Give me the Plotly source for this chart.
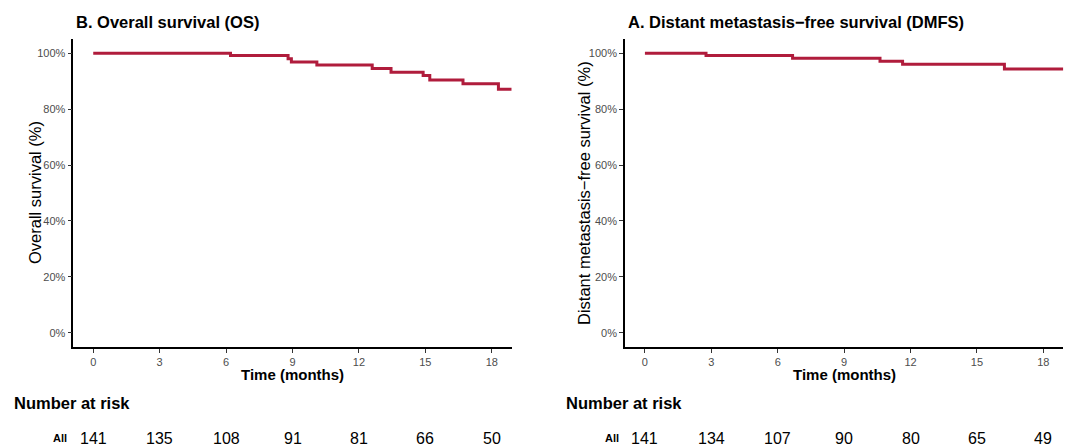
import plotly.graph_objects as go

# ---- data ----
os_time = [0, 6.2, 8.8, 8.95, 10.1, 12.6, 13.45, 14.9, 15.2, 16.7, 18.3, 18.9]
os_surv = [100, 99.2, 98.0, 96.8, 95.8, 94.5, 93.2, 92.0, 90.4, 89.1, 87.1, 87.1]

dmfs_time = [0, 2.76, 6.67, 10.62, 11.64, 16.24, 18.9]
dmfs_surv = [100, 99.2, 98.2, 97.1, 96.0, 94.3, 94.3]

risk_times = [0, 3, 6, 9, 12, 15, 18]
os_risk = [141, 135, 108, 91, 81, 66, 50]
dmfs_risk = [141, 134, 107, 90, 80, 65, 49]

x_ticks = [0, 3, 6, 9, 12, 15, 18]
y_ticks = [0, 20, 40, 60, 80, 100]
y_ticktext = ["0%", "20%", "40%", "60%", "80%", "100%"]

title_os = "B. Overall survival (OS)"
title_dmfs = "A. Distant metastasis\u2212free survival (DMFS)"
ytitle_os = "Overall survival (%)"
ytitle_dmfs = "Distant metastasis\u2212free survival (%)"
xtitle = "Time (months)"
risk_label = "Number at risk"
group_label = "All"

# ---- layout constants ----
W, H = 1070, 446
FONT = "Liberation Sans, Arial, sans-serif"
RED = "#B01C3C"
xd1 = [73.3 / W, 511.7 / W]
xd2 = [625.0 / W, 1063.3 / W]
yd = [(H - 346.7) / H, (H - 39.2) / H]

fig = go.Figure()
fig.add_trace(go.Scatter(x=os_time, y=os_surv, mode="lines", line=dict(color=RED, width=3, shape="hv"),
                         xaxis="x", yaxis="y", showlegend=False, hoverinfo="skip"))
fig.add_trace(go.Scatter(x=dmfs_time, y=dmfs_surv, mode="lines", line=dict(color=RED, width=3, shape="hv"),
                         xaxis="x2", yaxis="y2", showlegend=False, hoverinfo="skip"))

axis_common = dict(showline=True, linecolor="black", linewidth=1.6, showgrid=False, zeroline=False,
                   ticks="outside", ticklen=4, tickwidth=1.2, tickcolor="#333333",
                   tickfont=dict(family=FONT, size=11, color="#4D4D4D"), fixedrange=True)

fig.update_layout(
    template="none",
    width=W, height=H, margin=dict(l=0, r=0, t=0, b=0),
    paper_bgcolor="white", plot_bgcolor="white",
    xaxis=dict(domain=xd1, range=[-0.9, 18.9], tickmode="array", tickvals=x_ticks, anchor="y", **axis_common),
    yaxis=dict(domain=yd, range=[-5, 105], tickmode="array", tickvals=y_ticks, ticktext=y_ticktext,
               anchor="x", **axis_common),
    xaxis2=dict(domain=xd2, range=[-0.9, 18.9], tickmode="array", tickvals=x_ticks, anchor="y2", **axis_common),
    yaxis2=dict(domain=yd, range=[-5, 105], tickmode="array", tickvals=y_ticks, ticktext=y_ticktext,
                anchor="x2", **axis_common),
)

ann = []
# titles
ann.append(dict(text="<b>" + title_os + "</b>", x=74 / W, y=(H - 22) / H, xref="paper", yref="paper",
                xanchor="left", yanchor="middle", showarrow=False, font=dict(family=FONT, size=16.5, color="black")))
ann.append(dict(text="<b>" + title_dmfs + "</b>", x=626 / W, y=(H - 22) / H, xref="paper", yref="paper",
                xanchor="left", yanchor="middle", showarrow=False, font=dict(family=FONT, size=16.5, color="black")))
# x titles
for cx in [(73.3 + 511.7) / 2, (625 + 1063.3) / 2]:
    ann.append(dict(text="<b>" + xtitle + "</b>", x=cx / W, y=(H - 374) / H, xref="paper", yref="paper",
                    xanchor="center", yanchor="middle", showarrow=False, font=dict(family=FONT, size=15, color="black")))
# y titles
ann.append(dict(text=ytitle_os, x=35 / W, y=(H - 193) / H, xref="paper", yref="paper", textangle=-90,
                xanchor="center", yanchor="middle", showarrow=False, font=dict(family=FONT, size=16.5, color="black")))
ann.append(dict(text=ytitle_dmfs, x=584 / W, y=(H - 193) / H, xref="paper", yref="paper", textangle=-90,
                xanchor="center", yanchor="middle", showarrow=False, font=dict(family=FONT, size=16.5, color="black")))
# number at risk headers
for lx in [12, 564]:
    ann.append(dict(text="<b>" + risk_label + "</b>", x=lx / W, y=(H - 403) / H, xref="paper", yref="paper",
                    xanchor="left", yanchor="middle", showarrow=False, font=dict(family=FONT, size=16.5, color="black")))
# group labels
for gx in [60, 612]:
    ann.append(dict(text="<b>" + group_label + "</b>", x=gx / W, y=(H - 438) / H, xref="paper", yref="paper",
                    xanchor="center", yanchor="middle", showarrow=False, font=dict(family=FONT, size=11, color="black")))
# risk numbers
for xr, vals in [("x", os_risk), ("x2", dmfs_risk)]:
    for t, v in zip(risk_times, vals):
        ann.append(dict(text=str(v), x=t, y=(H - 438) / H, xref=xr, yref="paper",
                        xanchor="center", yanchor="middle", showarrow=False,
                        font=dict(family=FONT, size=16, color="black")))

fig.update_layout(annotations=ann)
fig.write_html("out.html", config={"displayModeBar": False},
               post_script="document.body.style.margin='0';document.body.style.overflow='hidden';")
